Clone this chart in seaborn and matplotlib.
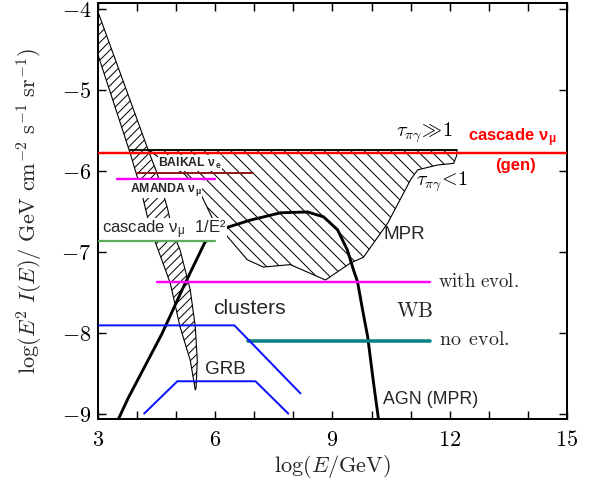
import numpy as np
import pandas as pd
import matplotlib
matplotlib.use("Agg")
import matplotlib.pyplot as plt
from matplotlib.ticker import MultipleLocator
import seaborn as sns

# ---------------- data (log E / GeV , log E^2 I(E)) ----------------
x_ticks = [3, 6, 9, 12, 15]
x_ticklabels = ["3", "6", "9", "12", "15"]
y_ticks = [-4, -5, -6, -7, -8, -9]
y_ticklabels = ["-4", "-5", "-6", "-7", "-8", "-9"]

# hatched band (left) - right edge top->bottom, then left edge bottom->top
band_x = [3.00, 4.28, 4.51, 4.77, 4.92, 5.10, 5.36, 5.49, 5.54, 5.51,
          5.49, 5.36, 5.10, 4.85, 4.54, 4.33, 4.08, 3.82, 3.00]
band_y = [-4.03, -5.73, -6.02, -6.44, -6.76, -6.97, -7.46, -7.92, -8.33, -8.67,
          -8.70, -8.33, -7.92, -7.38, -6.97, -6.69, -6.19, -5.77, -4.56]

# hatched MPR region (tau_pi_gamma range)
mpr_x = [4.28, 12.18, 12.18, 12.10, 11.69, 11.18, 11.00, 10.41, 9.79, 9.46,
         8.82, 7.92, 7.23, 6.82, 5.95, 5.62, 5.23, 4.28]
mpr_y = [-5.735, -5.735, -5.80, -5.90, -5.92, -5.98, -6.10, -6.64, -7.06, -7.13,
         -7.34, -7.15, -7.18, -7.09, -6.60, -6.27, -6.04, -5.735]

# black top line tau >> 1
top_x = [3.82, 12.18]
top_y = [-5.735, -5.735]

# AGN (MPR) curve
agn_x = [3.51, 3.77, 4.64, 5.23, 5.74, 6.31, 6.90, 7.67, 8.36, 8.77, 9.13,
         9.38, 9.54, 9.64, 9.77, 9.90, 10.05, 10.18]
agn_y = [-9.07, -8.80, -8.00, -7.38, -6.87, -6.69, -6.60, -6.51, -6.50, -6.56,
         -6.72, -6.97, -7.22, -7.36, -7.71, -8.04, -8.61, -9.07]

# limits
cascade_gen_x = [3.0, 15.0]
cascade_gen_y = [-5.77, -5.77]
baikal_x = [4.0, 6.97]
baikal_y = [-6.02, -6.02]
amanda_x = [3.49, 6.0]
amanda_y = [-6.09, -6.09]
cascade_e2_x = [3.0, 6.0]
cascade_e2_y = [-6.86, -6.86]
wb_evol_x = [4.51, 11.5]
wb_evol_y = [-7.36, -7.36]
wb_noevol_x = [6.85, 11.5]
wb_noevol_y = [-8.09, -8.09]

# cluster and GRB models
clusters_x = [3.0, 6.49, 8.18]
clusters_y = [-7.90, -7.90, -8.74]
grb_x = [4.18, 5.03, 7.03, 7.87]
grb_y = [-8.99, -8.59, -8.59, -8.99]

# ---------------- style ----------------
sns.set_theme(style="ticks")
plt.rcParams["font.family"] = ["Liberation Sans", "DejaVu Sans"]
plt.rcParams["mathtext.fontset"] = "cm"
plt.rcParams["hatch.linewidth"] = 0.9
plt.rcParams["axes.unicode_minus"] = True

DPI = 80
fig = plt.figure(figsize=(596 / DPI, 495 / DPI), dpi=DPI)
ax = fig.add_axes([98 / 596, 1 - 419 / 495, (567 - 98) / 596, (419 - 3) / 495])
ax.set_facecolor("white")

# hatched regions
ax.fill(band_x, band_y, facecolor="none", edgecolor="black", hatch="///",
        linewidth=1.0, zorder=1)
ax.fill(mpr_x, mpr_y, facecolor="none", edgecolor="black", hatch="\\\\",
        linewidth=1.0, zorder=1)


def line(x, y, color, lw, z=3):
    sns.lineplot(x=x, y=y, sort=False, estimator=None, color=color,
                 linewidth=lw, ax=ax, zorder=z, legend=False)


line(top_x, top_y, "black", 1.6)
line(cascade_gen_x, cascade_gen_y, "#ff0000", 2.2)
line(baikal_x, baikal_y, "#8e1a1a", 1.8)
line(amanda_x, amanda_y, "#ff00ff", 2.2)
line(cascade_e2_x, cascade_e2_y, "#5aac5a", 2.0, z=5)
line(wb_evol_x, wb_evol_y, "#ff00ff", 2.2)
line(wb_noevol_x, wb_noevol_y, "#0a8080", 3.2)
line(clusters_x, clusters_y, "#0a14ff", 1.8)
line(grb_x, grb_y, "#0a14ff", 1.8)
line(agn_x, agn_y, "black", 2.6, z=2)

# ---------------- texts ----------------
wbox = dict(facecolor="white", edgecolor="none", pad=0.3)
ax.text(10.62, -5.53, r"$\tau_{\pi\gamma}\!\gg\!1$", fontsize=18,
        va="center", ha="left", color="black")
ax.text(12.46, -5.58, "cascade ν$_\\mathregular{μ}$", fontsize=15,
        fontweight="bold", color="#ff0000", va="center", ha="left")
ax.text(13.69, -5.93, "(gen)", fontsize=15, fontweight="bold",
        color="#ff0000", va="center", ha="center")
ax.text(11.13, -6.13, r"$\tau_{\pi\gamma}\!<\!1$", fontsize=18,
        va="center", ha="left", color="black")
ax.text(10.31, -6.78, "MPR", fontsize=17, va="center", ha="left")
ax.text(4.54, -5.90, "BAIKAL ν$_\\mathregular{e}$", fontsize=11,
        fontweight="bold", va="center", ha="left", bbox=wbox, zorder=4)
ax.text(3.82, -6.22, "AMANDA ν$_\\mathregular{μ}$", fontsize=11,
        fontweight="bold", va="center", ha="left", bbox=wbox, zorder=4)
ax.text(3.10, -6.72, "cascade ν$_\\mathregular{μ}$  1/E²", fontsize=15,
        va="center", ha="left", bbox=wbox, zorder=4)
ax.text(5.95, -7.69, "clusters", fontsize=19, va="center", ha="left")
ax.text(5.74, -8.45, "GRB", fontsize=17, va="center", ha="left")
ax.text(10.62, -7.73, r"$\mathrm{WB}$", fontsize=19, va="center", ha="left")
ax.text(11.69, -7.36, r"$\mathrm{with\ evol.}$", fontsize=17,
        va="center", ha="left")
ax.text(11.72, -8.08, r"$\mathrm{no\ \,evol.}$", fontsize=18,
        va="center", ha="left")
ax.text(10.28, -8.82, "AGN (MPR)", fontsize=16, va="center", ha="left")

# ---------------- axes ----------------
ax.set_xlim(3, 15)
ax.set_ylim(-9.056, -3.92)
ax.set_xticks(x_ticks)
ax.set_xticklabels(["$" + t + "$" for t in x_ticklabels], fontsize=20)
ax.set_yticks(y_ticks)
ax.set_yticklabels(["$" + t + "$" for t in y_ticklabels], fontsize=20)
ax.xaxis.set_minor_locator(MultipleLocator(1))
ax.tick_params(which="major", direction="in", top=True, right=True,
               length=7, width=1.3, colors="black")
ax.tick_params(which="minor", direction="in", top=True, bottom=True,
               length=7, width=1.3, colors="black")
ax.tick_params(axis="x", which="major", pad=10)
ax.tick_params(axis="y", which="major", pad=6)
for s in ax.spines.values():
    s.set_linewidth(1.8)
    s.set_color("black")

ax.set_xlabel(r"$\log(E/\mathrm{GeV})$", fontsize=20, labelpad=2)
ax.set_ylabel(r"$\log(E^2\ I(E)/\ \mathrm{GeV\ cm^{-2}\ s^{-1}\ sr^{-1}})$",
              fontsize=20, labelpad=15)

fig.savefig("out.png", dpi=DPI, facecolor="white")
